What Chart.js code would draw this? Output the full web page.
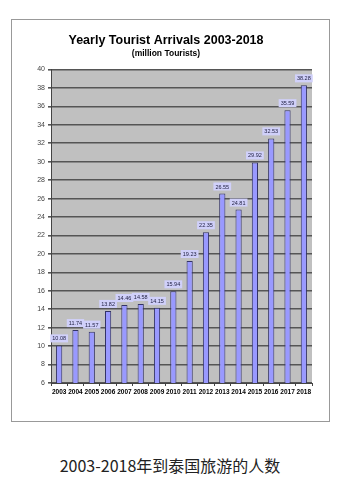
<!DOCTYPE html>
<html>
<head>
<meta charset="utf-8">
<script src="https://cdn.jsdelivr.net/npm/chart.js@4"></script>
<style>
  body { margin: 0; background: #fff; width: 351px; height: 489px; position: relative; overflow: hidden; }
  #frame { position: absolute; left: 11px; top: 19px; width: 317px; height: 401px; border: 1px solid #999; }
  #wrap { position: absolute; left: 0; top: 0; width: 351px; height: 420px; }
  #caption { position: absolute; left: 0; width: 340px; top: 453px; text-align: center;
    font-family: "Noto Sans CJK SC", "Noto Sans", sans-serif; font-size: 16px; color: #222; }
</style>
</head>
<body>
<div id="frame"></div>
<div id="wrap"><canvas id="chart" width="351" height="420"></canvas></div>
<div id="caption">2003-2018年到泰国旅游的人数</div>
<script>
// data
const years = ["2003", "2004", "2005", "2006", "2007", "2008", "2009", "2010",
  "2011", "2012", "2013", "2014", "2015", "2016", "2017", "2018"];
const arrivals = [10.08, 11.74, 11.57, 13.82, 14.46, 14.58, 14.15, 15.94,
  19.23, 22.35, 26.55, 24.81, 29.92, 32.53, 35.59, 38.28];
const yMin = 6;
const yMax = 40;
const yStep = 2;

// grey plot background
const plotBg = {
  id: "plotBg",
  beforeDraw(chart) {
    const { ctx, chartArea: a } = chart;
    ctx.save();
    ctx.fillStyle = "#c0c0c0";
    ctx.fillRect(a.left, a.top, a.right - a.left, a.bottom - a.top);
    ctx.restore();
  }
};

// value labels in little lavender boxes
const valueLabels = {
  id: "valueLabels",
  afterDatasetsDraw(chart) {
    const ctx = chart.ctx;
    const meta = chart.getDatasetMeta(0);
    ctx.save();
    ctx.font = "5.5px Arial, 'Liberation Sans', sans-serif";
    ctx.textAlign = "center";
    ctx.textBaseline = "middle";
    meta.data.forEach((bar, i) => {
      const txt = arrivals[i].toFixed(2);
      const w = ctx.measureText(txt).width + 4;
      const h = 8;
      const cy = bar.y - 7;
      ctx.fillStyle = "#d0d0fa";
      ctx.fillRect(bar.x - w / 2, cy - h / 2, w, h);
      ctx.fillStyle = "#222244";
      ctx.fillText(txt, bar.x, cy + 0.5);
    });
    ctx.restore();
  }
};

new Chart(document.getElementById("chart"), {
  type: "bar",
  data: {
    labels: years,
    datasets: [{
      data: arrivals,
      backgroundColor: "#9999ff",
      borderColor: "#333366",
      borderWidth: 1,
      barPercentage: 0.38,
      categoryPercentage: 1
    }]
  },
  options: {
    responsive: false,
    animation: false,
    layout: { padding: { top: 34, left: 20, right: 39, bottom: 23 } },
    scales: {
      x: {
        offset: true,
        grid: { offset: true, drawOnChartArea: false, color: "#444", tickLength: 3 },
        border: { color: "#444" },
        ticks: { color: "#000", font: { family: "Arial, 'Liberation Sans'", size: 6.5, weight: "bold" }, padding: 2, maxRotation: 0, autoSkip: false },
        afterFit(scale) { scale.height = 14; }
      },
      y: {
        min: yMin,
        max: yMax,
        ticks: { stepSize: yStep, color: "#444", font: { family: "Arial, 'Liberation Sans'", size: 7 }, padding: 3 },
        grid: { color: "#555", lineWidth: 1.6, tickLength: 3, drawTicks: true },
        border: { color: "#444" },
        afterFit(scale) { scale.width = 31; }
      }
    },
    plugins: {
      legend: { display: false },
      tooltip: { enabled: false },
      title: {
        display: true,
        text: "Yearly Tourist Arrivals 2003-2018",
        color: "#000",
        font: { family: "Arial, 'Liberation Sans'", size: 12.5, weight: "bold", lineHeight: 1 },
        padding: { top: 0, bottom: 0 }
      },
      subtitle: {
        display: true,
        text: "(million Tourists)",
        color: "#000",
        font: { family: "Arial, 'Liberation Sans'", size: 8.5, weight: "bold", lineHeight: 1 },
        padding: { top: 3, bottom: 11.5 }
      }
    }
  },
  plugins: [plotBg, valueLabels]
});
</script>
</body>
</html>
